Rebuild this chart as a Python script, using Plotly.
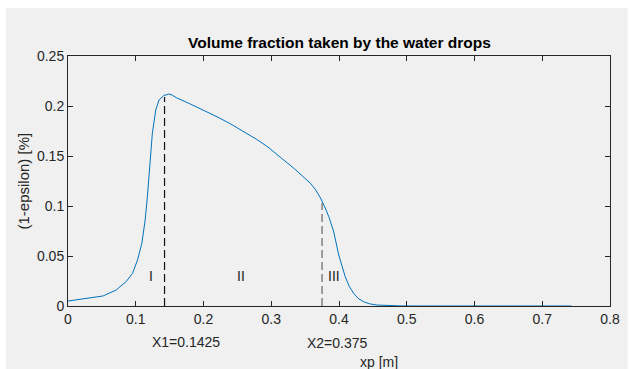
import plotly.graph_objects as go

# Data
xp = [0.0, 0.003, 0.02, 0.04, 0.0515, 0.0711, 0.0857, 0.0953, 0.1026, 0.109, 0.1139,
      0.1172, 0.1207, 0.1245, 0.1295, 0.1343, 0.1416, 0.1489, 0.154, 0.16, 0.18,
      0.20, 0.22, 0.24, 0.26, 0.28, 0.295, 0.3095, 0.3215, 0.3339,
      0.346, 0.3581, 0.3655, 0.3727, 0.379, 0.385, 0.3923, 0.3996, 0.4092, 0.415,
      0.4215, 0.428, 0.4361, 0.445, 0.4555, 0.47, 0.49, 0.52, 0.6, 0.7, 0.743]
eps = [0.005, 0.0053, 0.0066, 0.0086, 0.010, 0.016, 0.0243, 0.0327, 0.046, 0.0627, 0.086,
       0.1093, 0.1393, 0.1727, 0.196, 0.206, 0.2105, 0.212, 0.2108, 0.2083, 0.2022,
       0.1959, 0.1892, 0.1821, 0.1744, 0.166, 0.159, 0.151, 0.1445, 0.1374,
       0.130, 0.1225, 0.1162, 0.108, 0.099, 0.0893, 0.074, 0.051, 0.0293, 0.0198,
       0.0127, 0.0078, 0.0043, 0.0022, 0.001, 0.0004, 0.0001, 0.0, 0.0, 0.0, 0.0]

x_marks = [0.1425, 0.375]
x_mark_tops = [0.209, 0.103]
x_mark_colors = ["#111111", "#666666"]
region_labels = ["I", "II", "III"]
region_x = [0.1226, 0.2555, 0.3923]
region_y = [0.03, 0.03, 0.03]
x_ticks = [0, 0.1, 0.2, 0.3, 0.4, 0.5, 0.6, 0.7, 0.8]
y_ticks = [0, 0.05, 0.1, 0.15, 0.2, 0.25]

FONT = "Liberation Sans, Arial, Helvetica, sans-serif"
AX = "#262626"

L, R, T, B = 68, 16, 56, 63
PW, PH = 632 - L - R, 369 - T - B

fig = go.Figure()
fig.add_trace(go.Scatter(x=xp, y=eps, mode="lines",
                         line=dict(color="#0072BD", width=1), showlegend=False,
                         hoverinfo="skip"))
for xm, top, c in zip(x_marks, x_mark_tops, x_mark_colors):
    fig.add_trace(go.Scatter(x=[xm, xm], y=[0, top], mode="lines",
                             line=dict(color=c, width=1.2, dash="8px,4px"),
                             showlegend=False, hoverinfo="skip"))

annotations = []
for lab, lx, ly in zip(region_labels, region_x, region_y):
    annotations.append(dict(x=lx, y=ly, xref="x", yref="y", text=lab, showarrow=False,
                            xanchor="center", yanchor="middle",
                            font=dict(family=FONT, size=14, color="#222222")))
annotations.append(dict(x=(187.5 - L) / PW, y=(306 - 341.5) / PH,
                        xref="paper", yref="paper", text="X1=0.1425",
                        xanchor="center", yanchor="middle", showarrow=False,
                        font=dict(family=FONT, size=14, color=AX)))
annotations.append(dict(x=(340 - L) / PW, y=(306 - 343) / PH,
                        xref="paper", yref="paper", text="X2=0.375",
                        xanchor="center", yanchor="middle", showarrow=False,
                        font=dict(family=FONT, size=14, color=AX)))
annotations.append(dict(x=(382 - L) / PW, y=(306 - 362) / PH,
                        xref="paper", yref="paper", text="xp [m]",
                        xanchor="center", yanchor="middle", showarrow=False,
                        font=dict(family=FONT, size=14, color=AX)))
annotations.append(dict(x=(22 - L) / PW, y=0.5, xref="paper", yref="paper",
                        text="(1-epsilon) [%]", textangle=-90, showarrow=False,
                        xanchor="center", yanchor="middle",
                        font=dict(family=FONT, size=15, color=AX)))
annotations.append(dict(x=0.5, y=(T - 43) / PH + 1, xref="paper", yref="paper",
                        text="<b>Volume fraction taken by the water drops</b>",
                        xanchor="center", yanchor="middle", showarrow=False,
                        font=dict(family=FONT, size=15.5, color="#000000")))

fig.update_layout(
    width=632, height=369,
    margin=dict(l=L, r=R, t=T, b=B),
    paper_bgcolor="#ffffff",
    plot_bgcolor="#ffffff",
    annotations=annotations,
    shapes=[dict(type="rect", xref="paper", yref="paper",
                 x0=-(L - 5) / PW, x1=1 + (R + 2) / PW, y0=-(B + 2) / PH, y1=1 + (T - 8) / PH,
                 fillcolor="#f0f0f0", line=dict(width=0), layer="below")],
    xaxis=dict(range=[0, 0.8], tickvals=x_ticks, ticktext=[str(v) for v in x_ticks],
               showgrid=False, zeroline=False, showline=True, linecolor=AX, linewidth=1,
               mirror="ticks", ticks="inside", ticklen=5, tickcolor=AX,
               tickfont=dict(family=FONT, size=14, color=AX)),
    yaxis=dict(range=[0, 0.25], tickvals=y_ticks, ticktext=[str(v) for v in y_ticks],
               showgrid=False, zeroline=False, showline=True, linecolor=AX, linewidth=1,
               mirror="ticks", ticks="inside", ticklen=5, tickcolor=AX,
               tickfont=dict(family=FONT, size=14, color=AX)),
)

fig.write_html("out.html")
